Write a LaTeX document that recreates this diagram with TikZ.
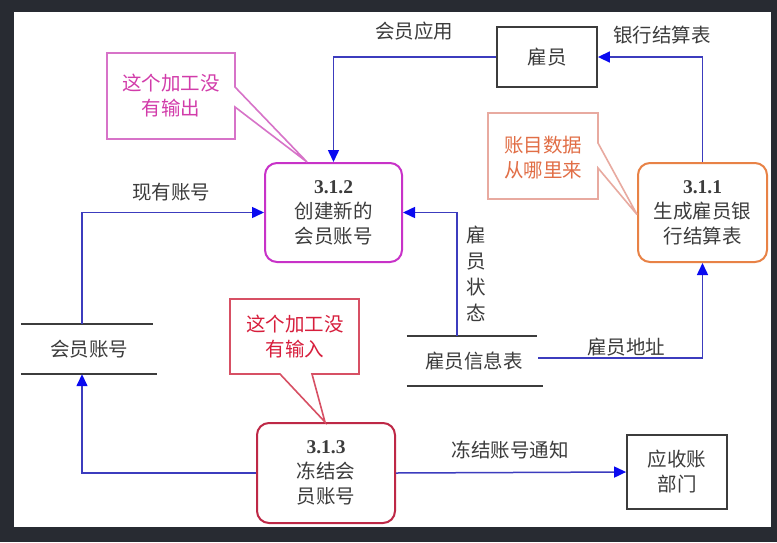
\documentclass[tikz,border=0pt]{standalone}
\usepackage{fontspec}
\setmainfont{Liberation Serif}
\newfontfamily\cjk{Noto Sans CJK SC}
\usetikzlibrary{arrows.meta,calc}
\definecolor{frameC}{RGB}{40,43,50}
\definecolor{txtC}{RGB}{60,60,60}
\definecolor{boxC}{RGB}{60,60,60}
\definecolor{lineC}{RGB}{60,60,190}
\definecolor{arrC}{RGB}{10,10,240}
\definecolor{magB}{RGB}{200,50,200}
\definecolor{c1B}{RGB}{215,115,200}
\definecolor{c1T}{RGB}{210,60,170}
\definecolor{oraB}{RGB}{232,130,70}
\definecolor{c2B}{RGB}{232,170,160}
\definecolor{c2T}{RGB}{225,110,70}
\definecolor{redB}{RGB}{190,40,70}
\definecolor{c3B}{RGB}{215,80,100}
\definecolor{c3T}{RGB}{215,30,60}
\newcommand{\num}[1]{{\rmfamily\bfseries #1}}
\tikzset{
  txt/.style={font=\cjk\fontsize{19.5}{25}\selectfont, text=txtC, align=center, inner sep=0pt},
  proc/.style={txt, draw, line width=2pt, rounded corners=12pt, minimum width=#1},
  ebox/.style={txt, draw=boxC, line width=1.8pt},
  store/.style={txt, minimum height=50pt},
  flow/.style={draw=lineC, line width=1.5pt, -{Triangle[length=12pt,width=11pt,color=arrC]}},
  storeline/.style={draw=boxC, line width=2pt},
  callout/.style={line width=1.6pt, fill=white},
}
\begin{document}
\begin{tikzpicture}[x=1pt,y=-1pt]
\useasboundingbox (0,0) rectangle (777,542);
\fill[frameC] (0,0) rectangle (777,542);
\fill[white] (14,12) rectangle (771,527);

% entities
\node[ebox, minimum width=100pt, minimum height=60pt] (emp) at (547,57) {雇员};
\node[ebox, minimum width=100pt, minimum height=74pt] (ar) at (677,472) {应收账\\部门};

% processes
\node[proc=137pt, draw=magB, minimum height=99pt] (p312) at (333.5,212.5) {\num{3.1.2}\\创建新的\\会员账号};
\node[proc=129pt, draw=oraB, minimum height=99pt] (p311) at (702.5,212.5) {\num{3.1.1}\\生成雇员银\\行结算表};
\node[proc=138pt, draw=redB, minimum height=100pt] (p313) at (326,473) {\num{3.1.3}\\冻结会\\员账号};

% data stores
\node[store, minimum width=136pt] (acc) at (89,349) {会员账号};
\draw[storeline] (acc.north west) -- ([xshift=-4pt]acc.north east);
\draw[storeline] (acc.south west) -- (acc.south east);
\node[store, minimum width=134pt] (einfo) at (474,361) {雇员信息表};
\draw[storeline] (einfo.north west) -- ([xshift=-4pt]einfo.north east);
\draw[storeline] (einfo.south west) -- ([xshift=2pt]einfo.south east);

% flows
\draw[flow] (emp.west) -| (p312.north);
\draw[flow] (p311.north) |- (emp.east);
\draw[flow] ([xshift=-7pt]acc.north) |- (p312.west);
\draw[flow] (p313.west) -| ([xshift=-7pt]acc.south);
\draw[flow] ([xshift=-17pt]einfo.north) |- (p312.east);
\draw[flow] ([xshift=-3pt,yshift=3pt]einfo.east) -| (p311.south);
\draw[flow] (p313.east) -- (ar.west);

% flow labels
\node[txt] (l1) at (414,31) {会员应用};
\node[txt] (l2) at (662,35) {银行结算表};
\node[txt] (l3) at (171,192) {现有账号};
\node[txt, font=\cjk\fontsize{19.5}{26}\selectfont] (l4) at (476,273.5) {雇\\员\\状\\态};
\node[txt] (l5) at (626,347) {雇员地址};
\node[txt] (l6) at (510,450) {冻结账号通知};

% callouts
\coordinate (t1) at ($(p312.north west)+(43pt,0)$);
\draw[callout, draw=c1B] (107,53) -- (235,53) -- (235,87) -- (t1) -- (235,107) -- (235,139) -- (107,139) -- cycle;
\node[txt, text=c1T] (c1) at (171,96) {这个加工没\\有输出};

\coordinate (t2) at ($(p311.west)+(0,-2pt)$);
\draw[callout, draw=c2B] (488,113) -- (598,113) -- (598,143) -- (t2) -- (598,168) -- (598,199) -- (488,199) -- cycle;
\node[txt, text=c2T] (c2) at (543,157.5) {账目数据\\从哪里来};

\coordinate (t3) at ($(p313.north)+(-1pt,0)$);
\draw[callout, draw=c3B] (230,299) -- (359,299) -- (359,374) -- (312,374) -- (t3) -- (280,374) -- (230,374) -- cycle;
\node[txt, text=c3T] (c3) at (295,336.5) {这个加工没\\有输入};
\end{tikzpicture}
\end{document}
